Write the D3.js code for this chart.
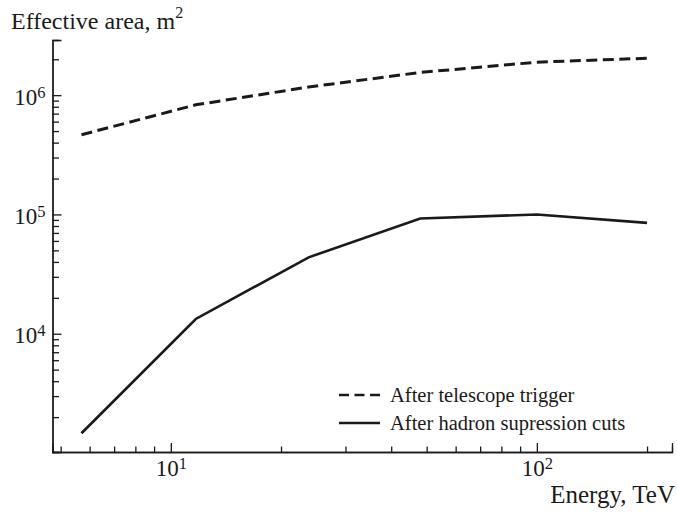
<!DOCTYPE html>
<html>
<head>
<meta charset="utf-8">
<script src="https://cdn.jsdelivr.net/npm/d3@7"></script>
<style>
  body { margin: 0; background: #fff; }
  text { font-family: "Liberation Serif", "Times New Roman", serif; fill: #1a1a1a; }
</style>
</head>
<body>
<div id="chart"></div>
<script>
// energies, TeV
var energy = [5.7, 11.7, 23.8, 48, 100, 200];
// effective area, m^2
var afterTrigger = [4.66e5, 8.3e5, 1.17e6, 1.55e6, 1.89e6, 2.04e6];
var afterCuts = [1466, 1.33e4, 4.37e4, 9.25e4, 1.0e5, 8.5e4];

var seriesNames = ["After telescope trigger", "After hadron supression cuts"];

var xMajor = [10, 100];
var xMinor = [5, 6, 7, 8, 9, 20, 30, 40, 50, 60, 70, 80, 90, 200];
var xLabels = [["10", "1"], ["10", "2"]];
var yMajor = [1e4, 1e5, 1e6];
var yMinor = [2e3, 3e3, 4e3, 5e3, 6e3, 7e3, 8e3, 9e3,
              2e4, 3e4, 4e4, 5e4, 6e4, 7e4, 8e4, 9e4,
              2e5, 3e5, 4e5, 5e5, 6e5, 7e5, 8e5, 9e5, 2e6];
var yLabels = [["10", "4"], ["10", "5"], ["10", "6"]];

var W = 677, H = 514;
var plot = {left: 52.5, right: 672, top: 40, bottom: 452};

var svg = d3.select("#chart")
    .append("svg")
    .attr("width", W)
    .attr("height", H);

var xScale = d3.scaleLog()
    .domain([4.75, 234])
    .range([plot.left, plot.right]);

var yScale = d3.scaleLog()
    .domain([1020, 2.9e6])
    .range([plot.bottom, plot.top]);

var ink = "#1a1a1a";

// x axis: minor then major ticks, pointing inward
svg.append("g")
    .attr("class", "x-minor")
    .attr("transform", "translate(0," + plot.bottom + ")")
    .call(d3.axisBottom(xScale).tickValues(xMinor).tickSize(-5.5).tickFormat(""));

var xAx = svg.append("g")
    .attr("class", "x-axis")
    .attr("transform", "translate(0," + plot.bottom + ")")
    .call(d3.axisBottom(xScale).tickValues(xMajor).tickSize(-9).tickPadding(24));

// y axis
svg.append("g")
    .attr("class", "y-minor")
    .attr("transform", "translate(" + plot.left + ",0)")
    .call(d3.axisLeft(yScale).tickValues(yMinor).tickSize(-6.5).tickFormat(""));

var yAx = svg.append("g")
    .attr("class", "y-axis")
    .attr("transform", "translate(" + plot.left + ",0)")
    .call(d3.axisLeft(yScale).tickValues(yMajor).tickSize(-9).tickPadding(8));

svg.selectAll(".domain").attr("stroke", ink).attr("stroke-width", 1.3);
svg.selectAll(".tick line").attr("stroke", ink).attr("stroke-width", 1.3);

// power-of-ten labels with superscripts
function powerLabel(sel, labels) {
    sel.selectAll(".tick text").each(function(d, i) {
        var t = d3.select(this).text("");
        t.append("tspan").text(labels[i][0]);
        t.append("tspan").attr("dy", "-0.42em").style("font-size", "16.5px").text(labels[i][1]);
    });
}

xAx.selectAll(".tick text")
    .attr("y", 24)
    .attr("dy", 0)
    .style("font-size", "23px")
    .attr("text-anchor", "middle");
powerLabel(xAx, xLabels);

yAx.selectAll(".tick text")
    .attr("x", -7)
    .attr("dy", 9)
    .style("font-size", "23px")
    .attr("text-anchor", "end");
powerLabel(yAx, yLabels);

// axis titles
var yt = svg.append("text")
    .attr("x", 11)
    .attr("y", 29)
    .style("font-size", "24px");
yt.append("tspan").text("Effective area, m");
yt.append("tspan").attr("dy", -11).style("font-size", "16px").text("2");

svg.append("text")
    .attr("x", 675)
    .attr("y", 503)
    .attr("text-anchor", "end")
    .style("font-size", "25px")
    .text("Energy, TeV");

// lines
var line = d3.line()
    .x(function(d) { return xScale(d[0]); })
    .y(function(d) { return yScale(d[1]); });

svg.append("path")
    .datum(d3.zip(energy, afterTrigger))
    .attr("fill", "none")
    .attr("stroke", ink)
    .attr("stroke-width", 3)
    .attr("stroke-dasharray", "11,5.5")
    .attr("d", line);

svg.append("path")
    .datum(d3.zip(energy, afterCuts))
    .attr("fill", "none")
    .attr("stroke", ink)
    .attr("stroke-width", 2.6)
    .attr("stroke-linejoin", "miter")
    .attr("d", line);

// legend
var legend = svg.append("g").attr("transform", "translate(339,395)");
var styles = ["10,5.5", null];
seriesNames.forEach(function(name, i) {
    var row = legend.append("g").attr("transform", "translate(0," + (i * 28) + ")");
    row.append("line")
        .attr("x1", 0).attr("x2", 41)
        .attr("stroke", ink)
        .attr("stroke-width", 2.6)
        .attr("stroke-dasharray", styles[i]);
    row.append("text")
        .attr("x", 51)
        .attr("y", 6.5)
        .style("font-size", "20.5px")
        .text(name);
});
</script>
</body>
</html>
